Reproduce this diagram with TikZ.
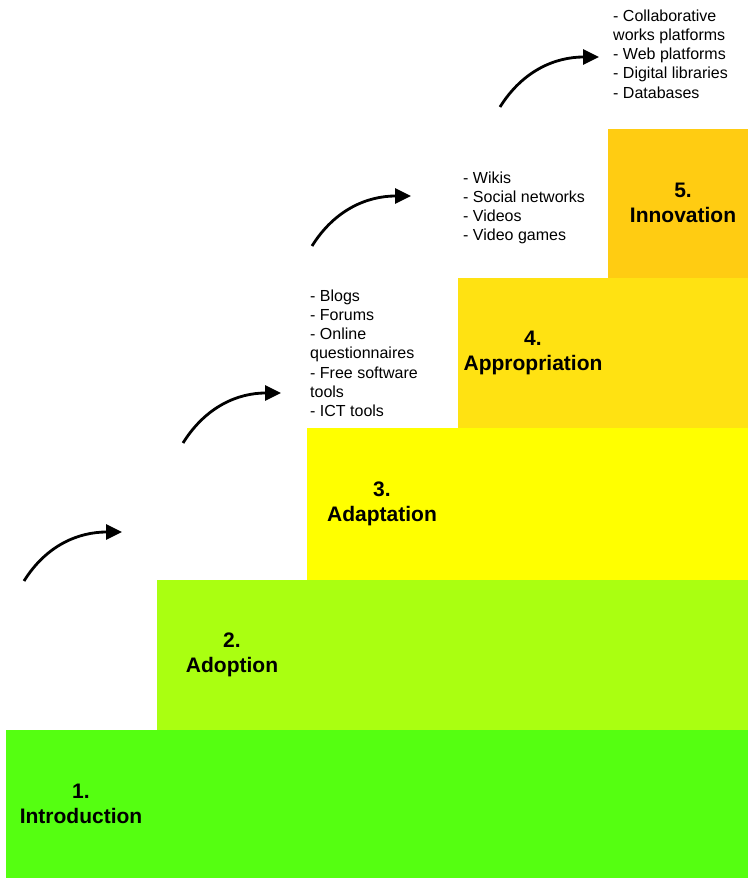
\documentclass[tikz,border=0pt]{standalone}
\usepackage{fontspec}
\setmainfont{Liberation Sans}
\usetikzlibrary{arrows.meta}

\definecolor{stepone}{HTML}{55FF11}
\definecolor{steptwo}{HTML}{AAFF11}
\definecolor{stepthree}{HTML}{FFFF00}
\definecolor{stepfour}{HTML}{FFE212}
\definecolor{stepfive}{HTML}{FFCC12}

\tikzset{
  stage/.style={align=center, font=\fontsize{21}{25}\selectfont\bfseries},
  tools/.style={align=left, anchor=north west, inner sep=0pt, font=\fontsize{16}{19.2}\selectfont},
  rise/.style={line width=2.8pt, -{Triangle[length=16pt,width=15pt]}, out=58, in=180},
}

\begin{document}
\begin{tikzpicture}[x=1pt,y=1pt]
  \useasboundingbox (0,0) rectangle (748,878);
  % the five steps
  \fill [stepone] (6,0) rectangle (748,148);
  \fill [steptwo] (157,148) rectangle (748,298);
  \fill [stepthree] (307,298) rectangle (748,450);
  \fill [stepfour] (458,450) rectangle (748,600);
  \fill [stepfive] (608,600) rectangle (748,749);
  % stage names
  \node [stage] (s1) at (81,74) {1.\\Introduction};
  \node [stage] (s2) at (232,223) {2.\\Adoption};
  \node [stage] (s3) at (382,374) {3.\\Adaptation};
  \node [stage] (s4) at (533,525) {4.\\Appropriation};
  \node [stage] (s5) at (683,675) {5.\\Innovation};
  % tools of each stage
  \node [tools] (l3) at (310,588.5) {- Blogs\\- Forums\\- Online\\questionnaires\\- Free software\\tools\\- ICT tools};
  \node [tools] (l4) at (463,706.5) {- Wikis\\- Social networks\\- Videos\\- Video games};
  \node [tools] (l5) at (613,868.5) {- Collaborative\\works platforms\\- Web platforms\\- Digital libraries\\- Databases};
  % arrows
  \coordinate (a1) at (24,297);
  \coordinate (b1) at (122,346);
  \coordinate (a2) at (183,435);
  \coordinate (b2) at (281,485);
  \coordinate (a3) at (312,632);
  \coordinate (b3) at (411,682);
  \coordinate (a4) at (500,771);
  \coordinate (b4) at (599,821);
  \draw [rise] (a1) to (b1);
  \draw [rise] (a2) to (b2);
  \draw [rise] (a3) to (b3);
  \draw [rise] (a4) to (b4);
\end{tikzpicture}
\end{document}
